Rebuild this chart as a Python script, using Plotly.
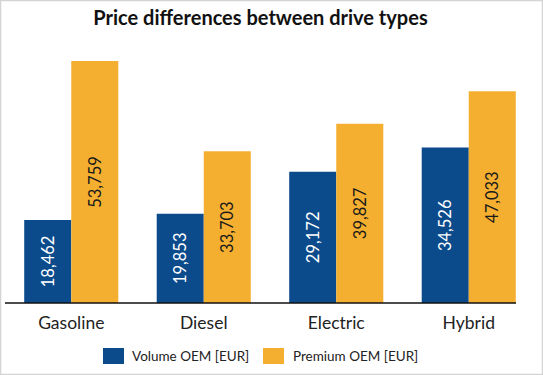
import plotly.graph_objects as go

categories = ["Gasoline", "Diesel", "Electric", "Hybrid"]
volume_oem = [18462, 19853, 29172, 34526]
premium_oem = [53759, 33703, 39827, 47033]
series_names = ["Volume OEM [EUR]", "Premium OEM [EUR]"]
title_text = "Price differences between drive types"

BLUE = "rgb(11,75,140)"
ORANGE = "rgb(245,175,48)"
FONT = "Lato, 'Open Sans', sans-serif"

W, H = 543, 375
ML, MR, MT, MB = 5, 8, 40, 72
PW, PH = W - ML - MR, H - MT - MB


def px(x):
    return (x - ML) / PW


def py(y):
    return (H - MB - y) / PH


fig = go.Figure()
fig.add_trace(go.Bar(
    x=categories, y=volume_oem, name=series_names[0],
    marker=dict(color=BLUE, line=dict(width=0)),
    text=[f"{v:,}" for v in volume_oem], textposition="inside",
    insidetextanchor="middle", textangle=-90,
    textfont=dict(color="white", size=16.5, family=FONT),
))
fig.add_trace(go.Bar(
    x=categories, y=premium_oem, name=series_names[1],
    marker=dict(color=ORANGE, line=dict(width=0)),
    text=[f"{v:,}" for v in premium_oem], textposition="inside",
    insidetextanchor="middle", textangle=-90,
    textfont=dict(color="#1a1a1a", size=16.5, family=FONT),
))

shapes = [
    # baseline
    dict(type="line", xref="paper", yref="paper", x0=0, x1=px(516), y0=0, y1=0,
         line=dict(color="#111", width=1.5)),
    # outer border
    dict(type="rect", xref="paper", yref="paper", x0=px(0.5), x1=px(542.5),
         y0=py(374.5), y1=py(0.5), line=dict(color="#d4d4d4", width=1.5)),
    # legend swatches
    dict(type="rect", xref="paper", yref="paper", x0=px(103), x1=px(124),
         y0=py(364), y1=py(348), fillcolor=BLUE, line=dict(width=0)),
    dict(type="rect", xref="paper", yref="paper", x0=px(263), x1=px(284),
         y0=py(364), y1=py(348), fillcolor=ORANGE, line=dict(width=0)),
]
annotations = [
    dict(text=series_names[0], xref="paper", yref="paper", x=px(130), y=py(356),
         xanchor="left", yanchor="middle", showarrow=False,
         font=dict(size=13.5, color="#222", family=FONT)),
    dict(text=series_names[1], xref="paper", yref="paper", x=px(291), y=py(356),
         xanchor="left", yanchor="middle", showarrow=False,
         font=dict(size=13.5, color="#222", family=FONT)),
]

fig.update_layout(
    width=W, height=H,
    margin=dict(l=ML, r=MR, t=MT, b=MB),
    paper_bgcolor="white", plot_bgcolor="white",
    title=dict(text="<b>" + title_text + "</b>", x=px(260.5), xref="paper", xanchor="center",
               y=1 - 18 / H, yanchor="middle",
               font=dict(size=20, color="#111", family=FONT)),
    barmode="group", bargap=0.29, bargroupgap=0,
    showlegend=False,
    font=dict(family=FONT),
    xaxis=dict(showline=False, showgrid=False, zeroline=False, ticks="",
               ticklabelstandoff=7,
               tickfont=dict(size=17.5, color="#222", family=FONT)),
    yaxis=dict(visible=False, range=[0, 58423], showgrid=False, zeroline=False),
    shapes=shapes, annotations=annotations,
    uniformtext=dict(mode=False),
)

fig.write_html("out.html", config={"displayModeBar": False},
               post_script="document.body.style.margin='0';")
